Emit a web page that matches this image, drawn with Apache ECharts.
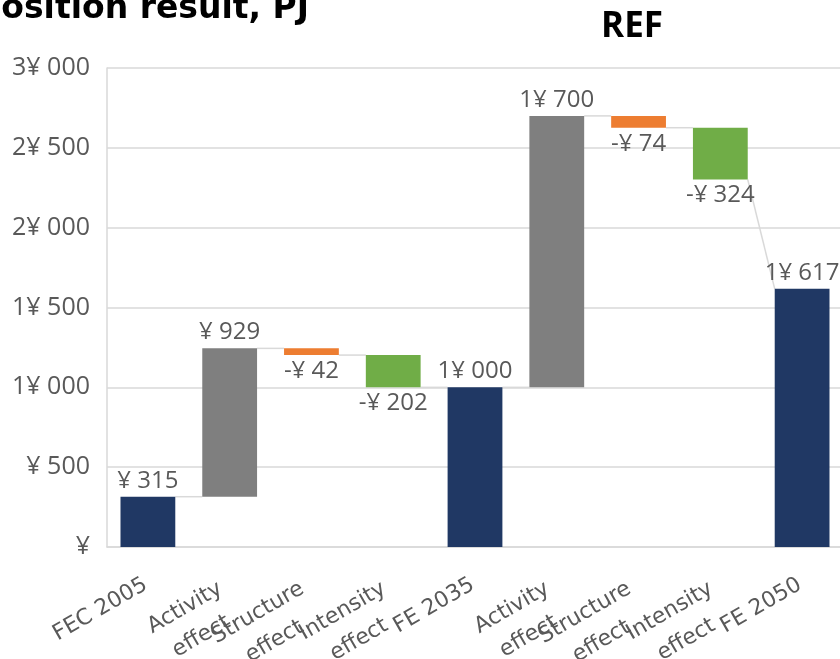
<!DOCTYPE html>
<html><head><meta charset="utf-8">
<script src="https://cdn.jsdelivr.net/npm/echarts@6/dist/echarts.min.js"></script>
<style>html,body{margin:0;padding:0;background:#fff}#c{width:840px;height:659px}</style>
</head><body><div id="c"></div>
<script>
const categories = ['FEC 2005','Activity\neffect','Structure\neffect','Intensity\neffect','FE 2035','Activity\neffect','Structure\neffect','Intensity\neffect','FE 2050'];
const values = [315, 929, -42, -202, 1000, 1700, -74, -324, 1617];
const barKinds = ['total','activity','structure','intensity','total','activity','structure','intensity','total'];
const yTicks = [0, 500, 1000, 1500, 2000, 2500, 3000];
const titleText = 'Decomposition result, PJ';
const subtitleText = 'REF';

const kindColors = {total:'#203864', activity:'#7f7f7f', structure:'#ed7d31', intensity:'#70ad47'};
const BAR_RATIO = 0.67;

function fmt(v){
  const neg = v < 0; v = Math.abs(Math.round(v));
  const th = Math.floor(v/1000), r = v % 1000;
  let s;
  if (v === 0) s = '¥';
  else if (th > 0) s = th + '¥ ' + String(r).padStart(3,'0');
  else s = '¥ ' + r;
  return (neg ? '-' : '') + s;
}

const bases = [], heights = [], starts = [], ends = [];
let run = 0;
values.forEach((v,i) => {
  if (barKinds[i] === 'total') { starts.push(v); ends.push(v); bases.push(0); heights.push(v); run = v; }
  else { const s = run, e = run + v; starts.push(s); ends.push(e); bases.push(Math.min(s,e)); heights.push(Math.abs(v)); run = e; }
});
const connectors = [];
for (let i = 0; i < values.length - 1; i++) connectors.push([i, ends[i], starts[i+1]]);

const labelFont = {fontFamily:'DejaVu Sans', fontSize:22, lineHeight:33, color:'#595959', align:'center'};

const chart = echarts.init(document.getElementById('c'), null, {renderer:'canvas'});
chart.setOption({
  animation: false,
  backgroundColor: '#fff',
  grid: {left: 107, top: 68, width: 736, height: 479, containLabel: false, outerBoundsMode: 'none'},
  graphic: [
    {type:'text', z:10, style:{x:309, y:9, text:titleText, textAlign:'right', textVerticalAlign:'middle', font:'bold 33px "DejaVu Sans"', fill:'#000'}},
    {type:'text', z:10, style:{x:632, y:27, text:subtitleText, textAlign:'center', textVerticalAlign:'middle', font:'bold 35px "Open Sans"', fill:'#000'}}
  ],
  xAxis: {
    type:'category', data: categories,
    axisLine:{show:true, lineStyle:{color:'#d9d9d9', width:1.5}},
    axisTick:{show:false},
    axisLabel:{interval:0, rotate:30, margin:16, verticalAlign:'top', padding:[0, 12, 0, 0], color:'#595959',
      formatter: v => { const ls = v.split('\n'); const s = ls.length > 1 ? 'm' : 'c'; return ls.map(l => '{' + s + '|' + l + '}').join('\n'); },
      rich:{c: labelFont, m: Object.assign({}, labelFont, {padding:[0, 8, 0, 0]})}}
  },
  yAxis: {
    type:'value', min: yTicks[0], max: yTicks[yTicks.length-1], interval: yTicks[1]-yTicks[0],
    axisLine:{show:true, lineStyle:{color:'#d9d9d9', width:1.5}},
    axisTick:{show:false},
    splitLine:{lineStyle:{color:'#d9d9d9', width:1.5}},
    axisLabel:{formatter: fmt, fontFamily:'Open Sans', fontSize:25, color:'#595959', margin:17}
  },
  series: [
    {type:'bar', stack:'w', barWidth: (BAR_RATIO*100)+'%', silent:true,
     itemStyle:{color:'transparent'}, data: bases},
    {type:'bar', stack:'w', barWidth: (BAR_RATIO*100)+'%',
     data: heights.map((h,i) => ({value:h, itemStyle:{color:kindColors[barKinds[i]]},
       label:{position: values[i] < 0 ? 'bottom' : 'top'}})),
     label:{show:true, distance:4, fontFamily:'Open Sans', fontSize:24, color:'#595959',
       formatter: p => fmt(values[p.dataIndex])}},
    {type:'custom', z:1, data: connectors,
     renderItem: (params, api) => {
       const i = api.value(0);
       const half = api.size([1,0])[0] * BAR_RATIO / 2;
       const a = api.coord([i, api.value(1)]);
       const b = api.coord([i+1, api.value(2)]);
       return {type:'line', shape:{x1:a[0]+half, y1:a[1], x2:b[0]-half, y2:b[1]},
               style:{stroke:'#d9d9d9', lineWidth:1.5}};
     }}
  ]
});
</script></body></html>
